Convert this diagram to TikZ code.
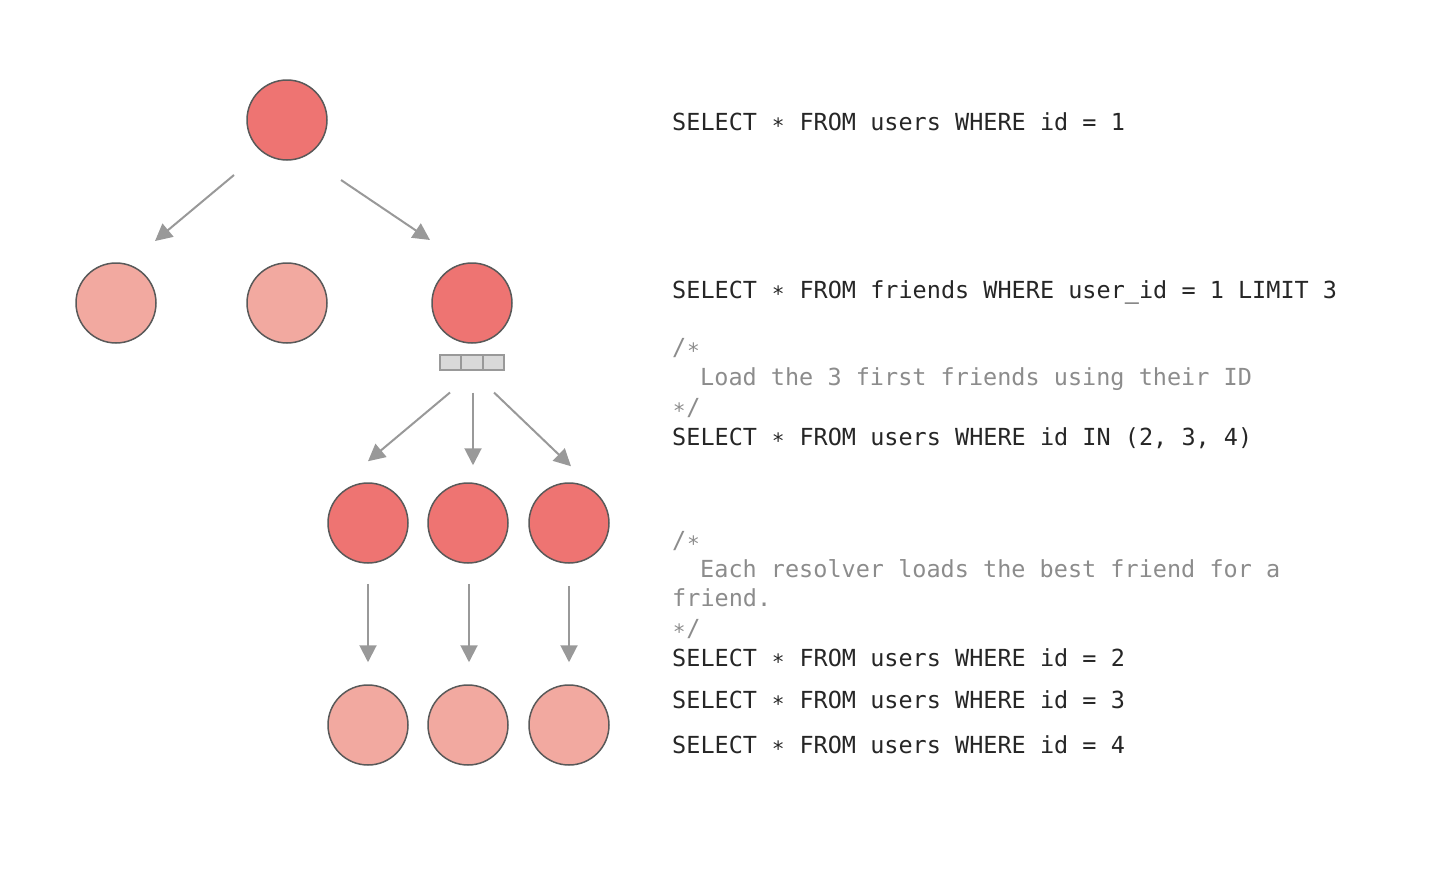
\documentclass[tikz,border=0pt]{standalone}
\usepackage{fontspec}
\setmonofont{DejaVu Sans Mono}
\usepackage{tikz}
\usetikzlibrary{shapes}
\usetikzlibrary{arrows.meta}
\definecolor{hotred}{RGB}{238,116,114}
\definecolor{coldred}{RGB}{242,169,160}
\newcommand{\lowstar}{\makebox[14.15pt]{\raisebox{-2.5pt}{\scalebox{0.9}{*}}}}

\begin{document}
\begin{tikzpicture}[x=1pt,y=1pt]
			\tikzstyle{user}=[circle,draw=black!65,line width=1.5pt,minimum size=80pt,inner sep=0pt]
			\tikzstyle{hot}=[user,fill=hotred]
			\tikzstyle{cold}=[user,fill=coldred]
			\tikzstyle{batch}=[rectangle split, rectangle split horizontal, rectangle split parts=3, draw=black!40, fill=black!15, line width=2pt, inner sep=0pt]
			\tikzstyle{edge}=[draw=black!40,line width=2pt,-{Triangle[length=17pt,width=17pt]}]
			\tikzstyle{sql}=[anchor=base west,inner sep=0pt,font=\ttfamily\fontsize{23.5}{28}\selectfont,text=black!85]
			\tikzstyle{note}=[sql,text=black!45]

			\useasboundingbox (0,0) rectangle (1440,-870);

			\node[hot] (root) at (287,-120) {};
			\node[cold] (u1) at (116,-303) {};
			\node[cold] (u2) at (287,-303) {};
			\node[hot] (u3) at (472,-303) {};
			\node[batch] (queue) at (472,-362) {\rule{20pt}{0pt}\rule{0pt}{15pt} \nodepart{two} \rule{20pt}{0pt}\rule{0pt}{15pt} \nodepart{three} \rule{20pt}{0pt}\rule{0pt}{15pt}};
			\node[hot] (f1) at (368,-523) {};
			\node[hot] (f2) at (468,-523) {};
			\node[hot] (f3) at (569,-523) {};
			\node[cold] (b1) at (368,-725) {};
			\node[cold] (b2) at (468,-725) {};
			\node[cold] (b3) at (569,-725) {};

			\draw[edge] ([shift={(-53pt,-55pt)}]root.center) -- ([shift={(39pt,62pt)}]u1.center);
			\draw[edge] ([shift={(54pt,-60pt)}]root.center) -- ([shift={(-42pt,63pt)}]u3.center);
			\draw[edge] ([shift={(-22pt,-22pt)}]queue.south) -- ([yshift=21pt]f1.north);
			\draw[edge] ([shift={(1pt,-22pt)}]queue.south) -- ([shift={(5pt,17pt)}]f2.north);
			\draw[edge] ([shift={(22pt,-22pt)}]queue.south) -- ([shift={(2pt,16pt)}]f3.north);
			\draw[edge] ([yshift=-20pt]f1.south) -- ([yshift=22pt]b1.north);
			\draw[edge] ([shift={(1pt,-20pt)}]f2.south) -- ([shift={(1pt,22pt)}]b2.north);
			\draw[edge] ([yshift=-22pt]f3.south) -- ([yshift=22pt]b3.north);

			\node[sql] (q1) at (672,-130.5) {SELECT \lowstar{} FROM users WHERE id = 1};
			\node[sql] (q2) at (672,-298.5) {SELECT \lowstar{} FROM friends WHERE user\_id = 1 LIMIT 3};
			\node[note] (c1) at (672,-355.5) {/\lowstar};
			\node[note] (c2) at (700,-385.5) {Load the 3 first friends using their ID};
			\node[note] (c3) at (672,-415.5) {\lowstar/};
			\node[sql] (q3) at (672,-445.5) {SELECT \lowstar{} FROM users WHERE id IN (2, 3, 4)};
			\node[note] (c4) at (672,-548.5) {/\lowstar};
			\node[note] (c5) at (700,-577.5) {Each resolver loads the best friend for a};
			\node[note] (c6) at (672,-606.5) {friend.};
			\node[note] (c7) at (672,-636.5) {\lowstar/};
			\node[sql] (q4) at (672,-666.5) {SELECT \lowstar{} FROM users WHERE id = 2};
			\node[sql] (q5) at (672,-708.5) {SELECT \lowstar{} FROM users WHERE id = 3};
			\node[sql] (q6) at (672,-753.5) {SELECT \lowstar{} FROM users WHERE id = 4};
\end{tikzpicture}
\end{document}
